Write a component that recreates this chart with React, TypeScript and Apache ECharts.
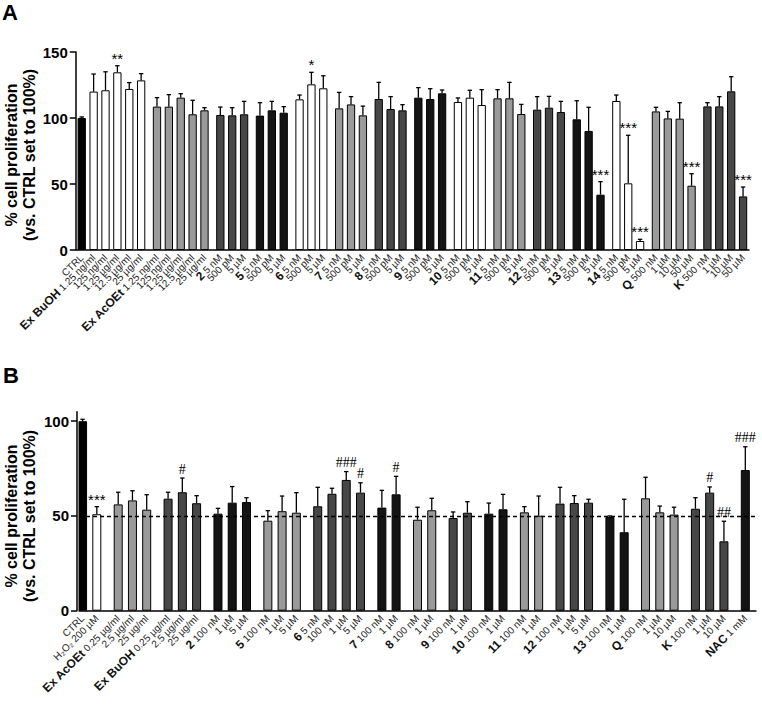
import React, { useEffect, useRef } from "react";
import * as echarts from "echarts";

// ---------- Panel A data ----------
const A_GROUP_NAMES = ["", "Ex BuOH", "Ex AcOEt", "2", "5", "6", "7", "8", "9", "10", "11", "12", "13", "14", "Q", "K"];
const A_GROUP_SIZES = [1, 5, 5, 3, 3, 3, 3, 3, 3, 3, 3, 3, 3, 3, 4, 4];
const A_DOSES = [
  "CTRL",
  "1.25 ng/ml", "125 ng/ml", "1.25 µg/ml", "12.5 µg/ml", "25 µg/ml",
  "1.25 ng/ml", "125 ng/ml", "1.25 µg/ml", "12.5 µg/ml", "25 µg/ml",
  "5 nM", "500 pM", "5 µM",
  "5 nM", "500 pM", "5 µM",
  "5 nM", "500 pM", "5 µM",
  "5 nM", "500 pM", "5 µM",
  "5 nM", "500 pM", "5 µM",
  "5 nM", "500 pM", "5 µM",
  "5 nM", "500 pM", "5 µM",
  "5 nM", "500 pM", "5 µM",
  "5 nM", "500 pM", "5 µM",
  "5 nM", "500 pM", "5 µM",
  "5 nM", "500 pM", "5 µM",
  "500 nM", "1 µM", "10 µM", "50 µM",
  "500 nM", "1 µM", "10 µM", "50 µM",
];
const A_VALUES = [
  100,
  120, 121, 134.6, 122, 128.5,
  108.6, 108.6, 115.4, 102.8, 105.8,
  102.3, 102, 102.8,
  101.8, 105.8, 104,
  114.1, 125.5, 122.5,
  107.3, 110.3, 102,
  114.4, 106.8, 105.8,
  115.4, 114.4, 118.7,
  112.1, 115.4, 109.8,
  114.9, 114.9, 103,
  106.3, 107.8, 104.5,
  99, 90.2, 41.9,
  112.9, 50.5, 6.8,
  105, 99.7, 99.5, 48.7,
  108.8, 108.8, 120.2, 40.6,
];
const A_ERRORS = [
  0.8,
  13.3, 14, 5, 4.8, 5.1,
  6.8, 9.1, 3, 10.6, 2,
  6, 5.8, 9.8,
  9.8, 6.8, 4.6,
  3.3, 9.1, 9.5,
  12.1, 5.9, 7,
  12.6, 9.4, 4.3,
  7.6, 7.8, 2.5,
  3.1, 5.6, 11.7,
  6.6, 12.1, 7.3,
  9.9, 8.6, 8.1,
  14.1, 17.9, 9.9,
  4.5, 36.4, 1.3,
  3.1, 5.3, 12.1, 9.1,
  2.8, 7.4, 11.1, 7.1,
];
const A_MARKS = [
  "",
  "", "", "**", "", "",
  "", "", "", "", "",
  "", "", "",
  "", "", "",
  "", "*", "",
  "", "", "",
  "", "", "",
  "", "", "",
  "", "", "",
  "", "", "",
  "", "", "",
  "", "", "***",
  "", "***", "***",
  "", "", "", "***",
  "", "", "", "***",
];
const A_TICKS = [0, 50, 100, 150];

// ---------- Panel B data ----------
const B_GROUP_NAMES = ["", "", "Ex AcOEt", "Ex BuOH", "2", "5", "6", "7", "8", "9", "10", "11", "12", "13", "Q", "K", "NAC"];
const B_GROUP_SIZES = [1, 1, 3, 3, 3, 3, 4, 2, 2, 2, 2, 2, 3, 2, 3, 3, 1];
const B_DOSES = [
  "CTRL",
  "H₂O₂ 200 µM",
  "0.25 µg/ml", "2.5 µg/ml", "25 µg/ml",
  "0.25 µg/ml", "2.5 µg/ml", "25 µg/ml",
  "100 nM", "1 µM", "5 µM",
  "100 nM", "1 µM", "5 µM",
  "5 nM", "100 nM", "1 µM", "5 µM",
  "100 nM", "1 µM",
  "100 nM", "1 µM",
  "100 nM", "1 µM",
  "100 nM", "1 µM",
  "100 nM", "1 µM",
  "100 nM", "1 µM", "5 µM",
  "100 nM", "1 µM",
  "100 nM", "1 µM", "10 µM",
  "100 nM", "1 µM", "10 µM",
  "1 mM",
];
const B_VALUES = [
  100,
  50.9,
  56.1, 58.2, 53.3,
  59.1, 62.5, 56.7,
  51.2, 57, 57.3,
  47.5, 52.5, 51.7,
  55.1, 61.7, 69, 62.3,
  54.4, 61.4,
  48, 53,
  48.9, 51.7,
  51.2, 53.5,
  51.9, 50.1,
  56.5, 56.8, 57,
  49.4, 41.4,
  59.3, 51.9, 50.7,
  53.8, 62.3, 36.6,
  74.2,
];
const B_ERRORS = [
  1,
  4,
  6.4, 5.1, 7.9,
  3.4, 7.5, 4,
  2.8, 8.5, 2.3,
  5.3, 8, 10.6,
  10, 2.9, 4.4, 5.2,
  9.1, 9.5,
  6.6, 6.3,
  3.2, 5.8,
  5.6, 7.9,
  3, 10.4,
  8.6, 3.9, 1.8,
  0.6, 17.4,
  11.1, 3.3, 3.9,
  5.8, 3, 10.6,
  12.3,
];
const B_MARKS = [
  "",
  "***",
  "", "", "",
  "", "#", "",
  "", "", "",
  "", "", "",
  "", "", "###", "#",
  "", "#",
  "", "",
  "", "",
  "", "",
  "", "",
  "", "", "",
  "", "",
  "", "", "",
  "", "#", "##",
  "###",
];
const B_TICKS = [0, 50, 100];
const B_REFERENCE = 50;

// ---------- styles ----------
const SHADE: Record<string, string> = { K0: "#000000", K: "#141414", W: "#ffffff", G: "#9a9a9a", D: "#474747" };
const A_SHADES = ["K0", "W", "G", "D", "K", "W", "G", "D", "K", "W", "G", "D", "K", "W", "G", "D"];
const B_SHADES = ["K0", "W", "G", "D", "K", "G", "D", "K", "G", "D", "K", "G", "D", "K", "G", "D", "K"];
const FONT = "'Liberation Sans', Arial, Helvetica, sans-serif";

function buildPanel(
  names: string[], sizes: number[], shades: string[], doses: string[],
  values: number[], errors: number[], marks: string[],
  lead: number, step: number, gap: number, trail: number
) {
  const positions: number[] = [];
  const fills: string[] = [];
  const groupStart: boolean[] = [];
  const groupName: string[] = [];
  let pos = lead;
  sizes.forEach((n, g) => {
    if (g >= 2) pos += gap;
    for (let i = 0; i < n; i++) {
      positions.push(pos);
      fills.push(SHADE[shades[g]]);
      groupStart.push(i === 0);
      groupName.push(names[g]);
      pos += step;
    }
  });
  const total = positions[positions.length - 1] + 1 + trail;
  const cats = Array.from({ length: total }, (_, i) => "c" + i);
  const labels: string[] = Array(total).fill("");
  const isBar: boolean[] = Array(total).fill(false);
  const barData: any[] = Array(total).fill(null);
  positions.forEach((p, k) => {
    isBar[p] = true;
    const hasName = groupStart[k] && groupName[k];
    labels[p] = hasName ? `{g|${groupName[k]}}{n| ${doses[k]}}` : `{n|${doses[k]}}`;
    barData[p] = { value: values[k], itemStyle: { color: fills[k] } };
  });
  const errData = positions.map((p, k) => [p, values[k], errors[k]]);
  return { cats, labels, isBar, barData, errData, marks };
}

const panelA = buildPanel(A_GROUP_NAMES, A_GROUP_SIZES, A_SHADES, A_DOSES, A_VALUES, A_ERRORS, A_MARKS, 1, 3, 1, 1);
const panelB = buildPanel(B_GROUP_NAMES, B_GROUP_SIZES, B_SHADES, B_DOSES, B_VALUES, B_ERRORS, B_MARKS, 0, 2, 1, 1);

function makeErrRender(marks: string[]) {
  return (params: any, api: any) => {
    const x = api.value(0);
    const v = api.value(1);
    const e = api.value(2);
    const p0 = api.coord([x, v]);
    const p1 = api.coord([x, v + e]);
    const cap = 2.2;
    const children: any[] = [
      { type: "line", shape: { x1: p0[0], y1: p0[1], x2: p1[0], y2: p1[1] }, style: { stroke: "#000", lineWidth: 1.3 } },
      { type: "line", shape: { x1: p1[0] - cap, y1: p1[1], x2: p1[0] + cap, y2: p1[1] }, style: { stroke: "#000", lineWidth: 1.3 } },
    ];
    const m = marks[params.dataIndex];
    if (m) {
      const isHash = m.indexOf("#") >= 0;
      children.push({
        type: "text",
        x: p1[0],
        y: p1[1] - (isHash ? 2 : 0),
        style: {
          text: m,
          fill: "#000",
          font: isHash ? `14px 'Liberation Serif', serif` : `15px ${FONT}`,
          align: "center",
          verticalAlign: "bottom",
        },
      });
    }
    return { type: "group", children };
  };
}

function xAxisFor(panel: any, gridIndex: number) {
  return {
    type: "category",
    gridIndex,
    data: panel.cats,
    boundaryGap: true,
    axisLine: { lineStyle: { color: "#000", width: 1.5 } },
    axisTick: {
      alignWithLabel: true,
      length: 5,
      interval: (index: number) => panel.isBar[index],
      lineStyle: { color: "#000", width: 1.2 },
    },
    axisLabel: {
      interval: 0,
      rotate: 45,
      margin: 6,
      formatter: (val: string) => panel.labels[parseInt(val.slice(1), 10)] || "",
      rich: {
        g: { fontFamily: FONT, fontWeight: "bold", fontSize: 12, color: "#111" },
        n: { fontFamily: FONT, fontSize: 10, color: "#222" },
      },
    },
    splitLine: { show: false },
  };
}

function yAxisFor(gridIndex: number, max: number, ticks: number[], offset: number) {
  return {
    type: "value",
    gridIndex,
    min: 0,
    max,
    offset,
    axisLine: { show: true, lineStyle: { color: "#000", width: 1.5 } },
    axisTick: { show: true, length: 6, customValues: ticks, lineStyle: { color: "#000", width: 1.5 } },
    axisLabel: {
      customValues: ticks,
      margin: 8,
      fontFamily: FONT,
      fontWeight: "bold",
      fontSize: 15,
      color: "#000",
    },
    splitLine: { show: false },
  };
}

export default function App() {
  const ref = useRef<HTMLDivElement>(null);
  useEffect(() => {
    if (!ref.current) return;
    const chart = echarts.init(ref.current, null, { renderer: "svg" });
    const option: any = {
      animation: false,
      backgroundColor: "#ffffff",
      grid: [
        { left: 75.8, right: 13, top: 52, height: 198 },
        { left: 79, right: 6, top: 411.7, height: 199 },
      ],
      xAxis: [xAxisFor(panelA, 0), xAxisFor(panelB, 1)],
      yAxis: [yAxisFor(0, 150, A_TICKS, 0), yAxisFor(1, 105, B_TICKS, 2)],
      series: [
        {
          type: "bar",
          xAxisIndex: 0,
          yAxisIndex: 0,
          data: panelA.barData,
          barWidth: 8.3,
          itemStyle: { borderColor: "#000", borderWidth: 1 },
        },
        {
          type: "custom",
          xAxisIndex: 0,
          yAxisIndex: 0,
          data: panelA.errData,
          renderItem: makeErrRender(panelA.marks),
          z: 5,
        },
        {
          type: "bar",
          xAxisIndex: 1,
          yAxisIndex: 1,
          data: panelB.barData,
          barWidth: 9,
          itemStyle: { borderColor: "#000", borderWidth: 1 },
          markLine: {
            silent: true,
            symbol: ["none", "none"],
            label: { show: false },
            lineStyle: { type: [4, 3], color: "#000", width: 1.3 },
            data: [{ yAxis: B_REFERENCE }],
          },
        },
        {
          type: "custom",
          xAxisIndex: 1,
          yAxisIndex: 1,
          data: panelB.errData,
          renderItem: makeErrRender(panelB.marks),
          z: 5,
        },
      ],
      graphic: [
        { type: "text", left: 2, top: 1, style: { text: "A", font: `bold 22px ${FONT}`, fill: "#000" } },
        { type: "text", left: 3, top: 364, style: { text: "B", font: `bold 22px ${FONT}`, fill: "#000" } },
        {
          type: "text",
          x: 20,
          y: 155,
          rotation: Math.PI / 2,
          style: {
            text: "% cell proliferation\n(vs. CTRL set to 100%)",
            font: `bold 16px ${FONT}`,
            fill: "#000",
            align: "center",
            verticalAlign: "middle",
            lineHeight: 18,
          },
        },
        {
          type: "text",
          x: 20,
          y: 516,
          rotation: Math.PI / 2,
          style: {
            text: "% cell proliferation\n(vs. CTRL set to 100%)",
            font: `bold 16px ${FONT}`,
            fill: "#000",
            align: "center",
            verticalAlign: "middle",
            lineHeight: 18,
          },
        },
      ],
    };
    chart.setOption(option);
    return () => chart.dispose();
  }, []);
  return (
    <div
      ref={ref}
      style={{ position: "fixed", left: 0, top: 0, width: 762, height: 705, background: "#fff" }}
    />
  );
}
